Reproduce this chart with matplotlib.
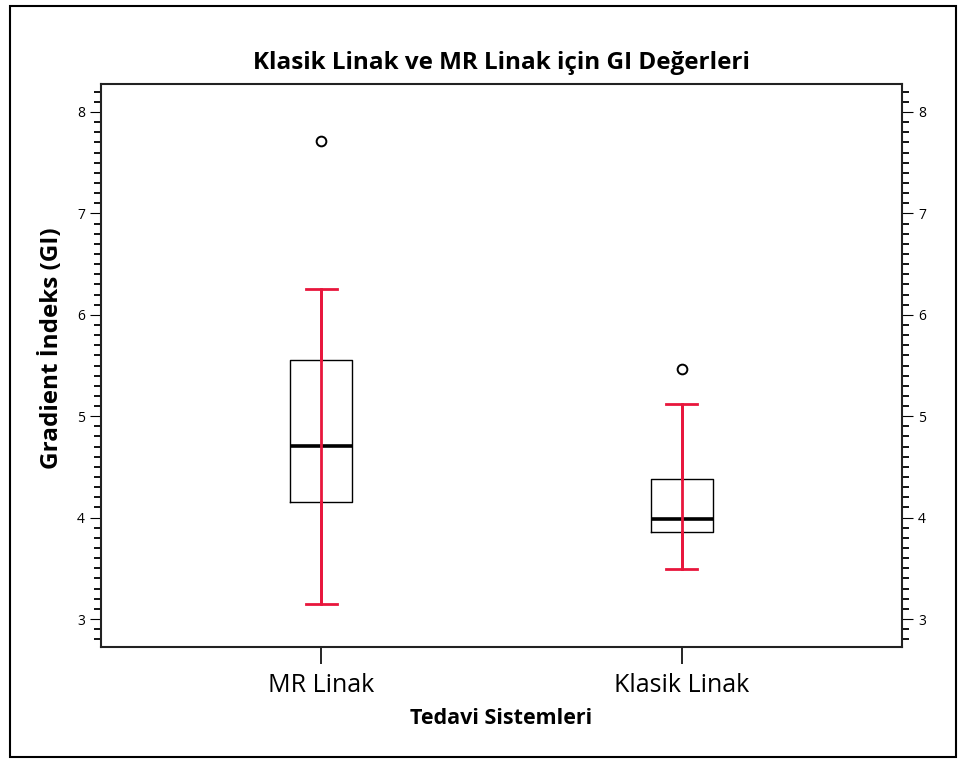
import matplotlib
matplotlib.use("Agg")
import matplotlib.pyplot as plt
from matplotlib.patches import Rectangle
from matplotlib.ticker import MultipleLocator

# Treatment systems and their GI box-plot summaries
categories = ["MR Linak", "Klasik Linak"]
q1 = [4.15, 3.86]
median = [4.71, 3.99]
q3 = [5.55, 4.38]
whisker_low = [3.15, 3.49]
whisker_high = [6.25, 5.12]
outliers = [[7.71], [5.47]]

title = "Klasik Linak ve MR Linak için GI Değerleri"
xlabel = "Tedavi Sistemleri"
ylabel = "Gradient İndeks (GI)"

plt.rcParams["font.family"] = ["Open Sans", "DejaVu Sans"]

W, H = 958, 763
fig = plt.figure(figsize=(W / 100, H / 100), dpi=100)
ax = fig.add_axes([101 / W, 1 - 647 / H, 801 / W, 563 / H])

positions = [1, 2]
stats = []
for i, name in enumerate(categories):
    stats.append(dict(label=name, q1=q1[i], med=median[i], q3=q3[i],
                      whislo=whisker_low[i], whishi=whisker_high[i],
                      fliers=outliers[i]))

red = "#e8163c"
ax.bxp(stats, positions=positions, widths=0.172, capwidths=0.086,
       boxprops=dict(color="black", linewidth=1.0),
       medianprops=dict(color="black", linewidth=2.6),
       whiskerprops=dict(color=red, linewidth=2.0),
       capprops=dict(color=red, linewidth=2.0),
       flierprops=dict(marker="o", markerfacecolor="none",
                       markeredgecolor="black", markersize=7,
                       markeredgewidth=1.4))
# whisker line runs straight through the box
ax.vlines(positions, whisker_low, whisker_high, color=red, linewidth=2.0,
          zorder=3)

ax.set_xlim(0.39, 2.61)
ax.set_ylim(2.724, 8.276)
ax.set_xticks(positions)
ax.set_xticklabels(categories, fontsize=18)
ax.yaxis.set_major_locator(MultipleLocator(1))
ax.yaxis.set_minor_locator(MultipleLocator(0.1))
ax.tick_params(axis="y", which="both", left=True, right=True,
               labelleft=True, labelright=True, labelsize=10,
               direction="out")
ax.tick_params(axis="y", which="major", length=8, width=0.8)
ax.tick_params(axis="y", which="minor", length=5, width=1.3)
ax.tick_params(axis="x", which="major", length=12, width=1.2, pad=7)

for s in ax.spines.values():
    s.set_linewidth(1.5)
    s.set_color("#222222")

ax.set_title(title, fontsize=17.5, fontweight="bold", pad=11)
ax.set_xlabel(xlabel, fontsize=15.5, fontweight="bold")
ax.xaxis.label.set_verticalalignment("center")
ax.xaxis.set_label_coords(0.5, -(718 - 647) / 563)
ax.set_ylabel(ylabel, fontsize=17.5, fontweight="bold")
ax.yaxis.label.set_verticalalignment("center")
ax.yaxis.set_label_coords(-(101 - 52) / 801, (647 - 348) / 563)

# outer frame around the whole figure
fig.patches.append(Rectangle((10 / W, 6 / H), 946 / W, 751 / H,
                             transform=fig.transFigure, fill=False,
                             edgecolor="black", linewidth=1.5))

fig.savefig("out.png", dpi=100)
